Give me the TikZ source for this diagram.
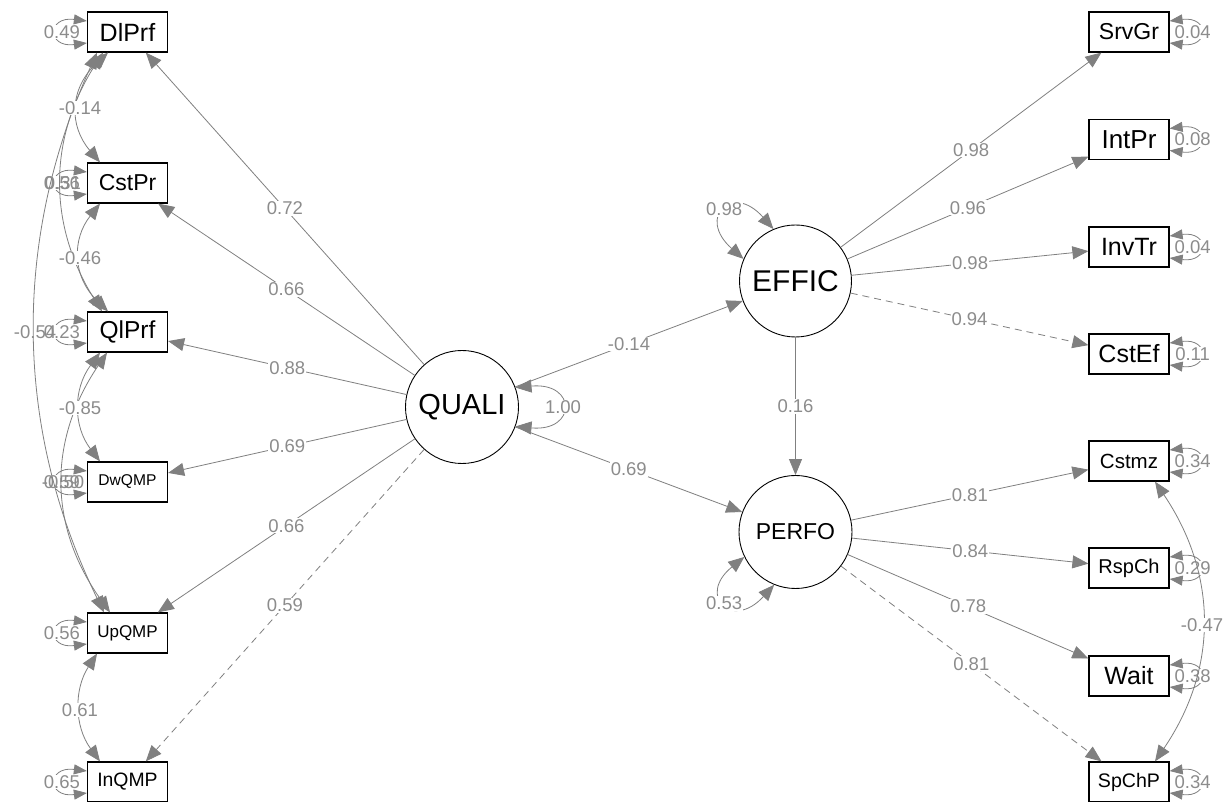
\documentclass[tikz,border=0pt]{standalone}
\usepackage{fontspec}
\setmainfont{Liberation Sans}
\usetikzlibrary{arrows.meta,calc}
\definecolor{edgegray}{RGB}{128,128,128}
\definecolor{lblgray}{RGB}{140,140,140}
\newcommand\fsz[1]{\fontsize{#1}{#1}\selectfont}
\tikzset{
  obs/.style={draw=black, line width=1.2pt, rectangle, minimum width=80pt, minimum height=40pt, inner sep=0pt, fill=white},
  lat/.style={draw=black, line width=0.9pt, circle, minimum size=113pt, inner sep=0pt, fill=white},
  edgeln/.style={draw=edgegray, line width=0.8pt},
  tip/.style={edgeln, -{Triangle[length=16pt,width=13pt]}, edgegray},
  bitip/.style={edgeln, {Triangle[length=16pt,width=13pt]}-{Triangle[length=16pt,width=13pt]}, edgegray},
  restip/.style={edgeln, {Triangle[length=13pt,width=10pt]}-{Triangle[length=13pt,width=10pt]}, edgegray},
  dashedge/.style={dash pattern=on 7pt off 5pt},
  lbl/.style={font=\fsz{18.5}, text=lblgray, fill=white, inner sep=0.8pt},
  lblnf/.style={lbl, fill=none},
}
\begin{document}
\begin{tikzpicture}[x=1pt,y=1pt]
\useasboundingbox (0,0) rectangle (1229,801);
\fill[white] (0,0) rectangle (1229,801);

% latent variables
\node[lat, font=\fsz{29}] (QUALI) at (462,394) {QUALI};
\node[lat, minimum size=112pt, font=\fsz{30}] (EFFIC) at (795.5,520) {EFFIC};
\node[lat, font=\fsz{23}] (PERFO) at (795.5,269) {PERFO};

% left indicators
\node[obs, font=\fsz{25}] (DlPrf) at (127.5,769) {DlPrf};
\node[obs, font=\fsz{23}] (CstPr) at (127.5,618) {CstPr};
\node[obs, font=\fsz{24.5}] (QlPrf) at (127.5,469) {QlPrf};
\node[obs, font=\fsz{15.6}] (DwQMP) at (127.5,319) {DwQMP};
\node[obs, font=\fsz{17}] (UpQMP) at (127.5,168) {UpQMP};
\node[obs, font=\fsz{19.4}] (InQMP) at (127.5,19) {InQMP};

% right indicators
\node[obs, font=\fsz{23}] (SrvGr) at (1129,769) {SrvGr};
\node[obs, font=\fsz{26}] (IntPr) at (1129,661.5) {IntPr};
\node[obs, font=\fsz{25}] (InvTr) at (1129,554) {InvTr};
\node[obs, font=\fsz{25}] (CstEf) at (1129,447) {CstEf};
\node[obs, font=\fsz{20.5}] (Cstmz) at (1129,340) {Cstmz};
\node[obs, font=\fsz{20}] (RspCh) at (1129,233) {RspCh};
\node[obs, font=\fsz{25}] (Wait) at (1129,125) {Wait};
\node[obs, font=\fsz{19.6}] (SpChP) at (1129,19) {SpChP};

% loadings QUALI
\draw[tip] (QUALI) -- node[lbl] (lq1) {0.72} (DlPrf);
\draw[tip] (QUALI) -- node[lbl] (lq2) {0.66} (CstPr);
\draw[tip] (QUALI) -- node[lbl] (lq3) {0.88} (QlPrf);
\draw[tip] (QUALI) -- node[lbl] (lq4) {0.69} (DwQMP);
\draw[tip] (QUALI) -- node[lbl] (lq5) {0.66} (UpQMP);
\draw[tip, dashedge] (QUALI) -- node[lbl] (lq6) {0.59} (InQMP);

% loadings EFFIC
\draw[tip] (EFFIC) -- node[lbl] (le1) {0.98} (SrvGr);
\draw[tip] (EFFIC) -- node[lbl] (le2) {0.96} (IntPr);
\draw[tip] (EFFIC) -- node[lbl] (le3) {0.98} (InvTr);
\draw[tip, dashedge] (EFFIC) -- node[lbl] (le4) {0.94} (CstEf);

% loadings PERFO
\draw[tip] (PERFO) -- node[lbl] (lp1) {0.81} (Cstmz);
\draw[tip] (PERFO) -- node[lbl] (lp2) {0.84} (RspCh);
\draw[tip] (PERFO) -- node[lbl] (lp3) {0.78} (Wait);
\draw[tip, dashedge] (PERFO) -- node[lbl] (lp4) {0.81} (SpChP);

% structural paths
\draw[tip] (QUALI) -- node[lbl] (s1) {-0.14} (EFFIC);
\draw[tip] (QUALI) -- node[lbl] (s2) {0.69} (PERFO);
\draw[tip] (EFFIC) -- node[lbl] (s3) {0.16} (PERFO);

% latent variances
\draw[bitip] (QUALI.20) .. controls ($(QUALI)+(12.3:117.7)$) and ($(QUALI)+(-12.3:117.7)$) .. (QUALI.-20);
\node[lbl] (vQ) at ($(QUALI)+(0:101)$) {1.00};
\draw[bitip] (EFFIC.157) .. controls ($(EFFIC)+(147.3:117.7)$) and ($(EFFIC)+(122.7:117.7)$) .. (EFFIC.113);
\node[lbl] (vE) at ($(EFFIC)+(135:101)$) {0.98};
\draw[bitip] (PERFO.206) .. controls ($(PERFO)+(212.7:117.7)$) and ($(PERFO)+(237.3:117.7)$) .. (PERFO.248);
\node[lbl] (vP) at ($(PERFO)+(225:101)$) {0.53};

% residuals left
\foreach \n/\v in {DlPrf/0.49, CstPr/0.56, QlPrf/0.23, DwQMP/0.59, UpQMP/0.56, InQMP/0.65}{
  \draw[restip] ($(\n.west)+(0,11)$) .. controls ($(\n.west)+(-40,16)$) and ($(\n.west)+(-40,-16)$) .. ($(\n.west)+(0,-11)$);
  \node[lbl] (r\n) at ($(\n.west)+(-25,0)$) {\v};
}
% residuals right
\foreach \n/\v in {SrvGr/0.04, IntPr/0.08, InvTr/0.04, CstEf/0.11, Cstmz/0.34, RspCh/0.29, Wait/0.38, SpChP/0.34}{
  \draw[restip] ($(\n.east)+(0,11)$) .. controls ($(\n.east)+(40,16)$) and ($(\n.east)+(40,-16)$) .. ($(\n.east)+(0,-11)$);
  \node[lbl] (r\n) at ($(\n.east)+(23,0)$) {\v};
}

% residual covariances left
\draw[bitip] ($(DlPrf.south)+(-19.5,0)$) .. controls (69,712) and (69,675) .. ($(CstPr.north)+(-27.5,0)$);
\draw[bitip] ($(DlPrf.south)+(-24.5,0)$) .. controls (48,662) and (48,576) .. ($(QlPrf.north)+(-25.5,0)$);
\draw[bitip] ($(DlPrf.south)+(-30.5,0)$) .. controls (13,562) and (13,375) .. ($(UpQMP.north)+(-23.5,0)$);
\draw[bitip] ($(CstPr.south)+(-27.5,0)$) .. controls (72,562) and (72,525) .. ($(QlPrf.north)+(-19.5,0)$);
\draw[bitip] ($(QlPrf.south)+(-27.5,0)$) .. controls (73,412) and (73,375) .. ($(DwQMP.north)+(-27.5,0)$);
\draw[bitip] ($(QlPrf.south)+(-20.5,0)$) .. controls (48,361) and (48,275) .. ($(UpQMP.north)+(-17.5,0)$);
\draw[bitip] ($(UpQMP.south)+(-30.5,0)$) .. controls (74,112) and (74,75) .. ($(InQMP.north)+(-27.5,0)$);
\node[lbl] (k1) at (80,693) {-0.14};
\node[lblnf] (k2) at (63,618) {0.31};
\node[lblnf] (k3) at (35,469) {-0.54};
\node[lbl] (k4) at (80,543) {-0.46};
\node[lbl] (k5) at (80,393) {-0.85};
\node[lblnf] (k6) at (63,319) {-0.50};
\node[lbl] (k7) at (80,91) {0.61};

% residual covariance right
\draw[bitip] ($(Cstmz.south)+(26,0)$) .. controls (1218,226) and (1218,132) .. ($(SpChP.north)+(26,0)$);
\node[lbl] (k8) at (1202,176) {-0.47};
\end{tikzpicture}
\end{document}
